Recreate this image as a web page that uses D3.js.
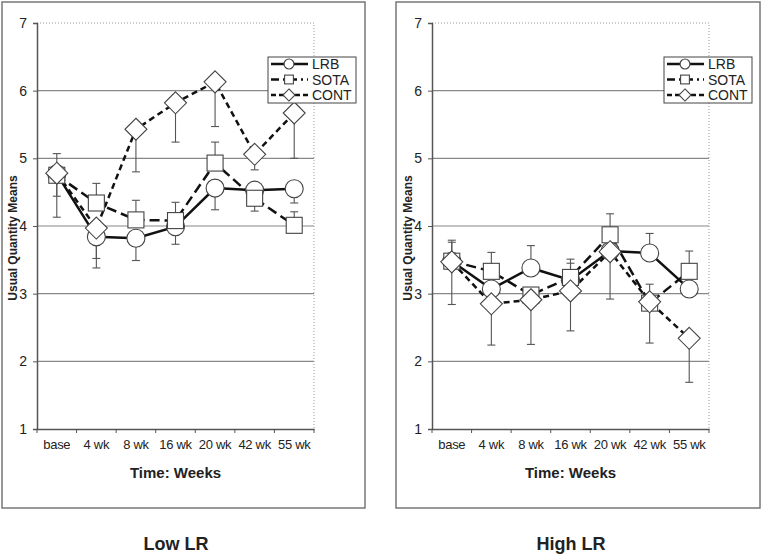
<!DOCTYPE html>
<html>
<head>
<meta charset="utf-8">
<script src="https://cdn.jsdelivr.net/npm/d3@7"></script>
<style>
  body { margin: 0; background: #fff; }
  text { font-family: "Liberation Sans", Arial, sans-serif; fill: #222; }
</style>
</head>
<body>
<div id="chart"></div>
<script>
(function() {
  // categories
  var weeks = ["base", "4 wk", "8 wk", "16 wk", "20 wk", "42 wk", "55 wk"];
  var yTicks = [1, 2, 3, 4, 5, 6, 7];
  var seriesNames = ["LRB", "SOTA", "CONT"];

  // Low LR means + error bar ends (null = no bar)
  var lowLRB = [4.77, 3.84, 3.82, 3.99, 4.56, 4.53, 4.55];
  var lowSOTA = [4.75, 4.34, 4.09, 4.08, 4.93, 4.41, 4.01];
  var lowCONT = [4.78, 3.97, 5.43, 5.82, 6.13, 5.06, 5.67];
  var lowLRBErr = [5.07, 3.38, 3.49, 3.73, 4.24, null, 4.34];
  var lowSOTAErr = [4.44, 4.63, 4.38, 4.35, 5.24, 4.22, 4.21];
  var lowCONTErr = [4.13, 3.52, 4.80, 5.24, 5.47, 4.83, 5.00];

  // High LR
  var highLRB = [3.48, 3.07, 3.38, 3.20, 3.63, 3.60, 3.07];
  var highSOTA = [3.48, 3.33, 2.98, 3.24, 3.87, 2.86, 3.33];
  var highCONT = [3.47, 2.85, 2.91, 3.04, 3.62, 2.88, 2.34];
  var highLRBErr = [3.79, null, 3.71, 3.45, null, 3.89, null];
  var highSOTAErr = [3.76, 3.61, null, 3.51, 4.18, 3.14, 3.63];
  var highCONTErr = [2.84, 2.24, 2.25, 2.45, 2.92, 2.27, 1.69];

  var panels = [
    { title: "Low LR", box: [2, 365], plotLeft: 37, legendX: 268, titleX: 176,
      series: [lowLRB, lowSOTA, lowCONT], errs: [lowLRBErr, lowSOTAErr, lowCONTErr] },
    { title: "High LR", box: [396, 760], plotLeft: 432, legendX: 664, titleX: 571,
      series: [highLRB, highSOTA, highCONT], errs: [highLRBErr, highSOTAErr, highCONTErr] }
  ];

  var plotTop = 23, plotBottom = 429, plotW = 277;
  var dashes = [null, "10,5", "6,4"];
  var lineW = [2.5, 2.5, 2.5];

  var svg = d3.select("#chart").append("svg")
    .attr("width", 762).attr("height", 555);

  function marker(sel, i, s) {
    if (i === 0) {
      sel.append("circle").attr("r", 9 * s);
    } else if (i === 1) {
      sel.append("rect").attr("x", -8 * s).attr("y", -8 * s)
        .attr("width", 16 * s).attr("height", 16 * s);
    } else {
      var d = 11 * s;
      sel.append("path").attr("d", "M0," + (-d) + "L" + d + ",0L0," + d + "L" + (-d) + ",0Z");
    }
    sel.selectAll("circle,rect,path")
      .attr("fill", "#fff").attr("stroke", "#444").attr("stroke-width", 1.1);
  }

  panels.forEach(function(p) {
    var g = svg.append("g");

    // outer frame
    g.append("rect")
      .attr("x", p.box[0]).attr("y", 2)
      .attr("width", p.box[1] - p.box[0]).attr("height", 506)
      .attr("fill", "none").attr("stroke", "#777").attr("stroke-width", 1.5);

    var x = d3.scaleBand().domain(weeks).range([p.plotLeft, p.plotLeft + plotW]).padding(0);
    var y = d3.scaleLinear().domain([1, 7]).range([plotBottom, plotTop]);

    // gridlines
    g.append("g").selectAll("line")
      .data(yTicks.filter(function(t) { return t > 1 && t < 7; }))
      .enter().append("line")
      .attr("x1", p.plotLeft).attr("x2", p.plotLeft + plotW)
      .attr("y1", function(d) { return y(d); }).attr("y2", function(d) { return y(d); })
      .attr("stroke", "#888").attr("stroke-width", 1.2);

    // dotted top/right border
    g.append("path")
      .attr("d", "M" + p.plotLeft + "," + plotTop + "H" + (p.plotLeft + plotW) + "V" + plotBottom)
      .attr("fill", "none").attr("stroke", "#999").attr("stroke-width", 1)
      .attr("stroke-dasharray", "1,2");

    // y axis
    var yAxis = g.append("g")
      .attr("transform", "translate(" + p.plotLeft + ",0)")
      .call(d3.axisLeft(y).tickValues(yTicks).tickSize(4).tickPadding(6).tickFormat(d3.format("d")));
    yAxis.select(".domain").attr("stroke", "#555").attr("stroke-width", 1.5);
    yAxis.selectAll(".tick line").attr("stroke", "#555");
    yAxis.selectAll("text").attr("font-size", 14).attr("fill", "#222")
      .attr("font-family", "Liberation Sans, Arial, sans-serif");

    // x axis: labels at centres, ticks at band edges
    var xAxis = g.append("g")
      .attr("transform", "translate(0," + plotBottom + ")")
      .call(d3.axisBottom(x).tickSize(0).tickPadding(11));
    xAxis.select(".domain").attr("stroke", "#555").attr("stroke-width", 1.5);
    xAxis.selectAll("text").attr("font-size", 13).attr("fill", "#222")
      .attr("letter-spacing", "-0.3px")
      .attr("font-family", "Liberation Sans, Arial, sans-serif");
    g.append("g").selectAll("line")
      .data(d3.range(weeks.length + 1))
      .enter().append("line")
      .attr("x1", function(i) { return p.plotLeft + i * x.step(); })
      .attr("x2", function(i) { return p.plotLeft + i * x.step(); })
      .attr("y1", plotBottom).attr("y2", plotBottom + 4)
      .attr("stroke", "#555");

    g.append("text")
      .attr("x", p.plotLeft + plotW / 2).attr("y", 478)
      .attr("text-anchor", "middle").attr("font-weight", "bold").attr("font-size", 15)
      .text("Time: Weeks");

    g.append("text")
      .attr("transform", "translate(" + (p.plotLeft - 20) + ",238) rotate(-90)")
      .attr("text-anchor", "middle").attr("font-weight", "bold").attr("font-size", 12)
      .text("Usual Quantity Means");

    // error bars
    p.errs.forEach(function(err, si) {
      var vals = p.series[si];
      var eg = g.append("g").attr("stroke", "#555").attr("stroke-width", 1.1);
      err.forEach(function(e, i) {
        if (e == null) return;
        var cx = x(weeks[i]) + x.bandwidth() / 2;
        eg.append("line").attr("x1", cx).attr("x2", cx)
          .attr("y1", y(vals[i])).attr("y2", y(e));
        eg.append("line").attr("x1", cx - 4).attr("x2", cx + 4)
          .attr("y1", y(e)).attr("y2", y(e));
      });
    });

    var line = d3.line()
      .x(function(d, i) { return x(weeks[i]) + x.bandwidth() / 2; })
      .y(function(d) { return y(d); });

    p.series.forEach(function(vals, si) {
      g.append("path").datum(vals)
        .attr("d", line)
        .attr("fill", "none").attr("stroke", "#111")
        .attr("stroke-width", lineW[si])
        .attr("stroke-dasharray", dashes[si]);
    });

    p.series.forEach(function(vals, si) {
      vals.forEach(function(v, i) {
        var mg = g.append("g")
          .attr("transform", "translate(" + (x(weeks[i]) + x.bandwidth() / 2) + "," + y(v) + ")");
        marker(mg, si, 1);
      });
    });

    // legend
    var lg = g.append("g").attr("transform", "translate(" + p.legendX + ",57)");
    lg.append("rect").attr("width", 88).attr("height", 46)
      .attr("fill", "#fff").attr("stroke", "#444").attr("stroke-width", 1);
    seriesNames.forEach(function(name, si) {
      var ly = 7 + si * 15.5;
      lg.append("line").attr("x1", 3).attr("x2", 40).attr("y1", ly).attr("y2", ly)
        .attr("stroke", "#111").attr("stroke-width", 2.5)
        .attr("stroke-dasharray", dashes[si] ? (si === 1 ? "8,4,2,4" : "5,3") : null);
      var mg = lg.append("g").attr("transform", "translate(21," + ly + ")");
      marker(mg, si, 0.55);
      lg.append("text").attr("x", 44).attr("y", ly + 5)
        .attr("font-size", 14).text(name);
    });

    g.append("text")
      .attr("x", p.titleX).attr("y", 550)
      .attr("text-anchor", "middle").attr("font-weight", "bold").attr("font-size", 18)
      .text(p.title);
  });
})();
</script>
</body>
</html>
